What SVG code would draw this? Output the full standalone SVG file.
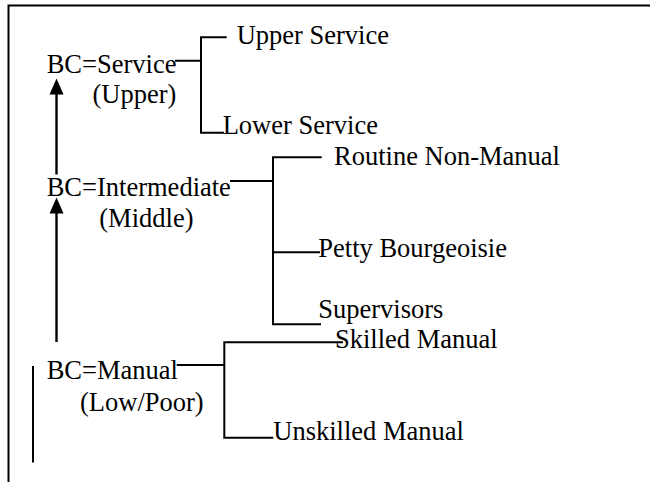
<svg xmlns="http://www.w3.org/2000/svg" width="650" height="482" viewBox="0 0 650 482">
<defs>
<style>
text{font-family:"Liberation Serif","Times New Roman",serif;font-size:26.5px;fill:#000}
.ln{stroke:#000;stroke-width:2;fill:none}
.fr{stroke:#000;stroke-width:2;fill:none}
.ar{stroke:#000;stroke-width:2.4;fill:none}
</style>
</defs>
<rect width="650" height="482" fill="#fff"/>
<g id="frame">
<path class="fr" d="M8.5,482 V5.5 H650"/>
<path class="fr" d="M33,366 V462.5"/>
</g>
<g id="connectors">
<path class="ar" d="M56.5,342 V211"/>
<polygon points="56.5,197.5 49.5,213.5 63.5,213.5" fill="#000"/>
<path class="ar" d="M56.5,174.5 V92"/>
<polygon points="56.5,78.5 49.5,94.5 63.5,94.5" fill="#000"/>
<path class="ln" d="M175,60.7 H201 M226.7,37.3 H201 V132.7 H224"/>
<path class="ln" d="M230,181 H273 M321.7,157.3 H273 V324.3 H321 M273,252.3 H320"/>
<path class="ln" d="M176.7,365 H224.3 M343,342.3 H224.3 V437.7 H273.3"/>
</g>
<g id="service">
<text x="46.7" y="72.7">BC=Service</text>
<text x="92.5" y="103.3">(Upper)</text>
</g>
<g id="intermediate">
<text x="46.7" y="196">BC=Intermediate</text>
<text x="99.3" y="226.7">(Middle)</text>
</g>
<g id="manual">
<text x="46.7" y="379">BC=Manual</text>
<text x="80" y="410.7">(Low/Poor)</text>
</g>
<g id="upper-service"><text x="236.7" y="44.3">Upper Service</text></g>
<g id="lower-service"><text x="222.7" y="134.3">Lower Service</text></g>
<g id="routine"><text x="334" y="165.3">Routine Non-Manual</text></g>
<g id="petty"><text x="318.3" y="257.3">Petty Bourgeoisie</text></g>
<g id="supervisors"><text x="318.3" y="318.3">Supervisors</text></g>
<g id="skilled"><text x="335" y="347.5">Skilled Manual</text></g>
<g id="unskilled"><text x="273.3" y="440.3">Unskilled Manual</text></g>
</svg>
